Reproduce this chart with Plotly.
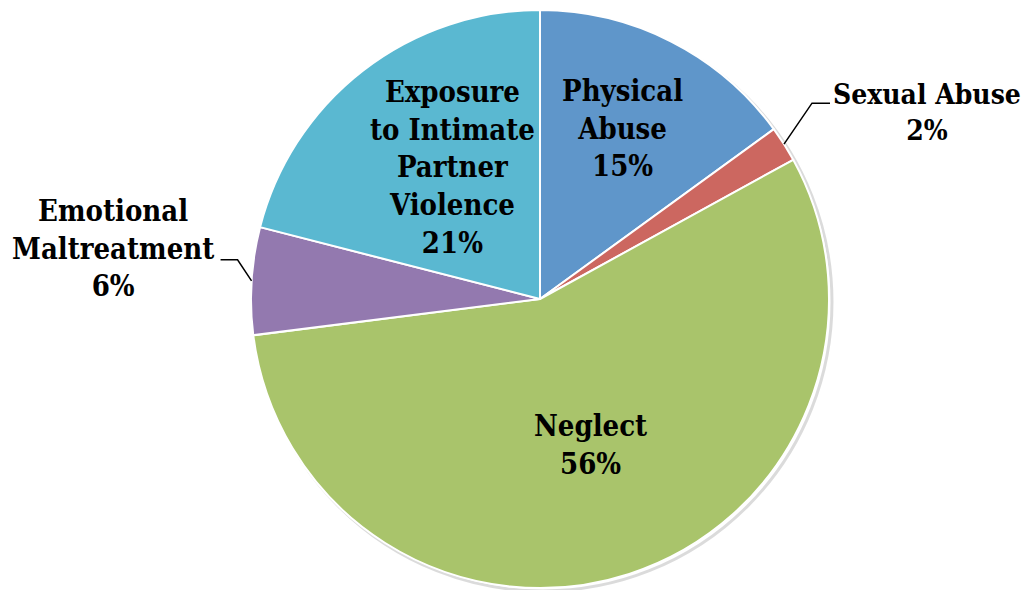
import math
import plotly.graph_objects as go

categories = ["Physical Abuse", "Sexual Abuse", "Neglect", "Emotional Maltreatment",
              "Exposure to Intimate Partner Violence"]
label_text = ["Physical<br>Abuse", "Sexual Abuse", "Neglect",
              "Emotional<br>Maltreatment", "Exposure<br>to Intimate<br>Partner<br>Violence"]
values = [15, 2, 56, 6, 21]
colors = ["#5F96CA", "#CC6760", "#A9C46B", "#9379AF", "#5AB8D1"]

FONT = "DejaVu Serif Condensed"
FS = 29
W, H = 1033, 590
MT, MB = 2, 10
PH = H - MT - MB
CXP = 0.515  # pie centre (paper x)
R = PH / 2

# label placement relative to each slice's rim point at its mid-angle (pixels)
label_style = [
    dict(xs=-49, ys=-87, size=FS),                                   # Physical
    dict(xs=143, ys=32, elbow=(28, -41), end=(46, -41), size=28),    # Sexual (outside)
    dict(xs=-39, ys=129, size=FS),                                   # Neglect
    dict(xs=-139, ys=32, elbow=(-14, -21), end=(-31, -21), size=FS), # Emotional (outside)
    dict(xs=90, ys=-97, size=FS),                                    # Exposure
]

fig = go.Figure()

# soft shadow ring behind the pie
sh = 2
fig.add_shape(type="circle", xref="paper", yref="paper", layer="below",
              x0=CXP - (R - 1 - sh) / W, x1=CXP + (R + 1 + sh) / W,
              y0=0.5 - (R + 1 + sh) / PH, y1=0.5 + (R - 1 - sh) / PH,
              line=dict(color="rgba(0,0,0,0.14)", width=3),
              fillcolor="rgba(0,0,0,0)")

fig.add_trace(go.Pie(
    labels=categories,
    values=values,
    textinfo="none",
    sort=False,
    direction="clockwise",
    rotation=0,
    marker=dict(colors=colors, line=dict(color="white", width=2)),
    automargin=False,
    showlegend=False,
    hoverinfo="label+percent",
    domain=dict(x=[CXP - 0.485, CXP + 0.485], y=[0, 1]),
))

total = sum(values)
cum = 0
for i, v in enumerate(values):
    mid = (cum + v / 2) / total * 2 * math.pi
    cum += v
    o = label_style[i]
    ex = CXP + R * math.sin(mid) / W
    ey = 0.5 + R * math.cos(mid) / PH
    if "elbow" in o:
        x1 = ex + o["elbow"][0] / W
        y1 = ey - o["elbow"][1] / PH
        x2 = ex + o["end"][0] / W
        y2 = ey - o["end"][1] / PH
        fig.add_shape(type="path", xref="paper", yref="paper",
                      path=f"M {ex},{ey} L {x1},{y1} L {x2},{y2}",
                      line=dict(color="black", width=1.5))
    fig.add_annotation(x=ex, y=ey, xref="paper", yref="paper",
                       text=f"{label_text[i]}<br>{v}%", showarrow=False,
                       xshift=o["xs"], yshift=o["ys"],
                       xanchor="center", yanchor="middle", align="center",
                       font=dict(family=FONT, size=o["size"], color="black", weight="bold"))

fig.update_layout(
    width=W, height=H,
    margin=dict(l=0, r=0, t=MT, b=MB),
    paper_bgcolor="white",
    plot_bgcolor="white",
    font=dict(family=FONT),
)

fig.write_html("out.html")
